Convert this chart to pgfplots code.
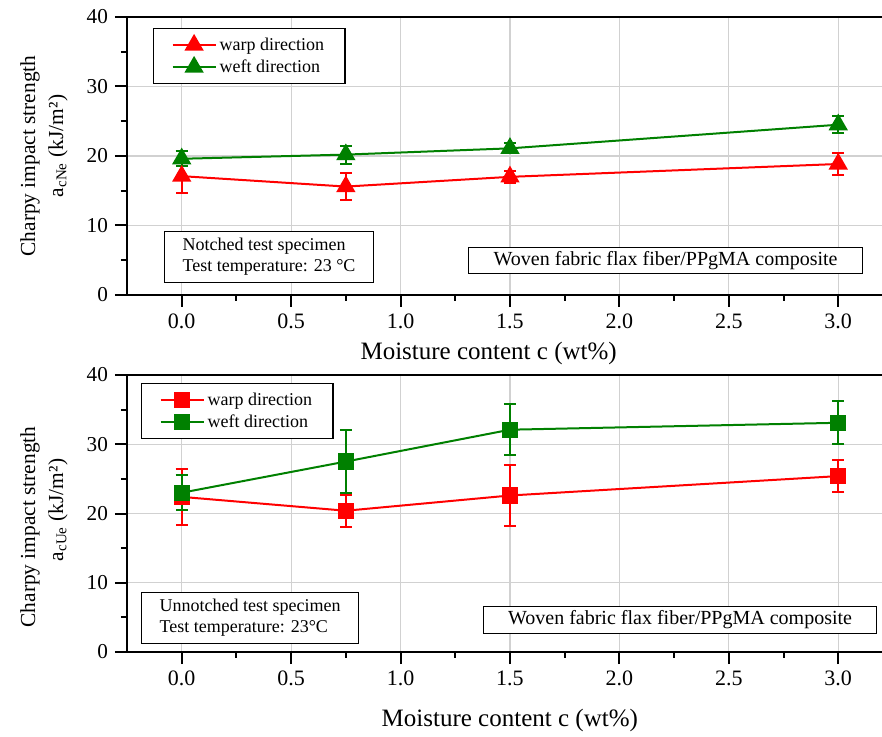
\documentclass[border=0pt]{standalone}
\usepackage{pgfplots}
\pgfplotsset{compat=1.18}
\usepackage{fontspec}
\setmainfont{Liberation Serif}
\newfontfamily\tnr{Liberation Serif}
\definecolor{myred}{RGB}{255,0,0}
\definecolor{mygreen}{RGB}{0,128,0}
\pgfplotsset{
 myaxis/.style={
  scale only axis, width=377.5pt, height=139pt,
  xmin=-0.25, xmax=3.2, ymin=0, ymax=40,
  xtick={0,0.5,...,3}, ytick={0,10,20,30,40},
  minor x tick num=1, minor y tick num=1,
  axis x line*=bottom, axis y line*=left,
  axis line style={line width=1pt, -},
  tick align=outside,
  major tick length=6pt, minor tick length=3pt,
  tick style={black, line width=1pt},
  grid=major, major grid style={black!18, line width=0.6pt},
  xticklabel style={font=\tnr\fontsize{11}{11}\selectfont, /pgf/number format/.cd, fixed, fixed zerofill, precision=1, /tikz/.cd},
  /pgf/number format/assume math mode=true,
  yticklabel style={font=\tnr\fontsize{10.6}{11}\selectfont},
  xlabel style={font=\tnr\fontsize{12.5}{13}\selectfont},
  ylabel style={font=\tnr\fontsize{10.7}{14}\selectfont, align=center, at={(axis description cs:0,0.5)}, anchor=center, yshift=41.5pt},
  clip=false,
  legend cell align=left,
  legend style={draw=black, line width=0.6pt, font=\tnr\fontsize{9}{11}\selectfont, row sep=0pt, inner xsep=9pt, inner ysep=2.75pt, anchor=north west, nodes={inner xsep=1.5pt, inner ysep=1pt, text height=7pt, text depth=2pt}},
  legend image code/.code={\draw[mark repeat=2,mark phase=2] plot coordinates {(0pt,0pt)(10.75pt,0pt)(21.5pt,0pt)};},
 },
 redstyle/.style={color=myred, line width=1pt, mark options={solid, fill=myred},
   error bars/.cd, y dir=both, y explicit, error bar style={line width=1pt, myred}, error mark options={rotate=90, mark size=3pt, line width=1pt, myred}, /pgfplots/.cd},
 greenstyle/.style={color=mygreen, line width=1pt, mark options={solid, fill=mygreen},
   error bars/.cd, y dir=both, y explicit, error bar style={line width=1pt, mygreen}, error mark options={rotate=90, mark size=3pt, line width=1pt, mygreen}, /pgfplots/.cd},
}
\tikzset{
 infobox/.style={draw, line width=0.6pt, anchor=south west, align=left, font=\tnr\fontsize{9}{10.5}\selectfont, inner xsep=9pt, inner ysep=3.4pt, fill=white},
 wovenbox/.style={draw, line width=0.6pt, anchor=south west, align=center, font=\tnr\fontsize{10}{11}\selectfont, minimum width=197pt, minimum height=13pt, inner sep=1pt, fill=white},
}
\begin{document}
\begin{tikzpicture}
\useasboundingbox (-63.5pt,-42.5pt) rectangle (377.5pt,326pt);
% top panel
\begin{axis}[myaxis, at={(0,178.5pt)}, anchor=south west,
  xlabel={Moisture content c (wt\%)},
  xlabel style={at={(axis description cs:0.479,0)}, anchor=center, yshift=-29pt},
  ylabel={Charpy impact strength\rule{10pt}{0pt}\\a\textsubscript{cNe} (kJ/m²)},
  ylabel style={xshift=5pt},
  legend style={at={(axis description cs:0,1)}, xshift=13pt, yshift=-5.5pt}]
\addplot[mark=triangle*, mark size=4.6pt, redstyle] coordinates {
 (0,17.1) +- (0,2.4)
 (0.75,15.6) +- (0,1.9)
 (1.5,17.0) +- (0,0.9)
 (3,18.85) +- (0,1.65)};
\addlegendentry{warp direction}
\addplot[mark=triangle*, mark size=4.6pt, greenstyle] coordinates {
 (0,19.6) +- (0,1.1)
 (0.75,20.2) +- (0,1.3)
 (1.5,21.1) +- (0,0.7)
 (3,24.5) +- (0,1.2)};
\addlegendentry{weft direction}
\draw[line width=1pt] (rel axis cs:0,1) -- (rel axis cs:1,1);
\node[infobox] at (rel axis cs:0.049,0.043) {Notched test specimen\\Test temperature: 23 °C};
\node[wovenbox] at (rel axis cs:0.4517,0.0755) {Woven fabric flax fiber/PPgMA composite};
\end{axis}
% bottom panel
\begin{axis}[myaxis, at={(0,0)}, anchor=south west, height=138.5pt,
  xlabel={Moisture content c (wt\%)},
  xlabel style={at={(axis description cs:0.507,0)}, anchor=center, yshift=-34pt},
  ylabel={Charpy impact strength\rule{17pt}{0pt}\\a\textsubscript{cUe} (kJ/m²)},
  ylabel style={xshift=1.75pt},
  legend style={at={(axis description cs:0,1)}, xshift=7pt, yshift=-4pt}]
\addplot[mark=square*, mark size=3.6pt, redstyle] coordinates {
 (0,22.4) +- (0,4.0)
 (0.75,20.4) +- (0,2.3)
 (1.5,22.6) +- (0,4.4)
 (3,25.4) +- (0,2.3)};
\addlegendentry{warp direction}
\addplot[mark=square*, mark size=3.6pt, greenstyle] coordinates {
 (0,23.0) +- (0,2.5)
 (0.75,27.5) +- (0,4.5)
 (1.5,32.1) +- (0,3.65)
 (3,33.1) +- (0,3.1)};
\addlegendentry{weft direction}
\draw[line width=1pt] (rel axis cs:0,1) -- (rel axis cs:1,1);
\node[infobox] at (rel axis cs:0.0185,0.029) {Unnotched test specimen\\Test temperature: 23°C};
\node[wovenbox, minimum width=196.5pt, minimum height=13.5pt] at (rel axis cs:0.4715,0.065) {Woven fabric flax fiber/PPgMA composite};
\end{axis}
\end{tikzpicture}
\end{document}
